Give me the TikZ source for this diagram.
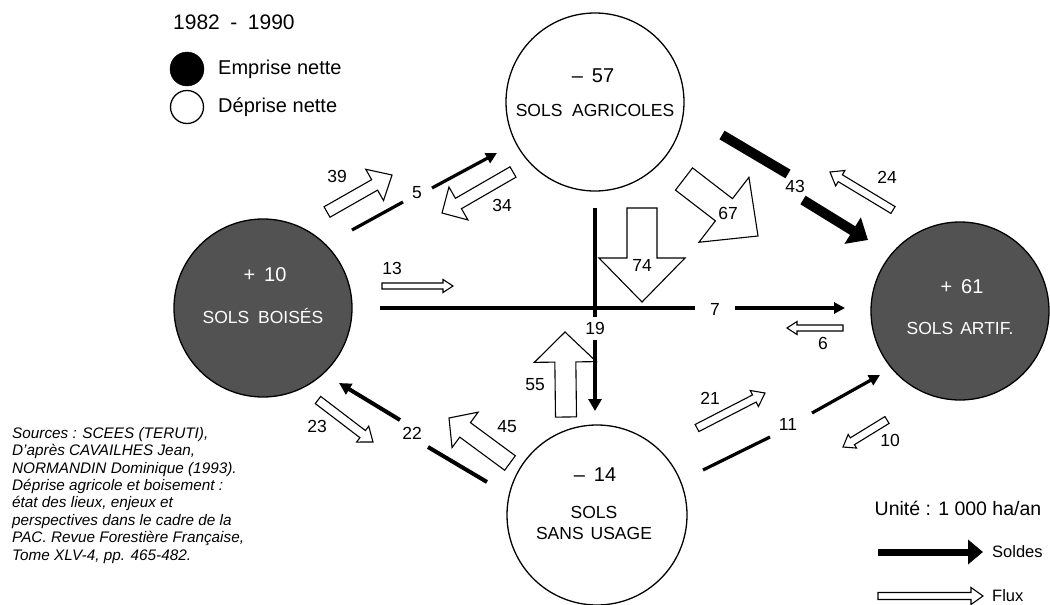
\documentclass[tikz,border=0pt]{standalone}
\usepackage{fontspec}
\setmainfont{Liberation Sans}
\usetikzlibrary{calc,arrows.meta}

% hollow block arrow: tail, tip, half shaft, half head, head length
\newcommand\fluxarrow[5]{%
  \coordinate (fbase) at ($(#2)!#5!(#1)$);
  \draw[fluxline] ($(#1)!#3!90:(#2)$) -- ($(fbase)!#3!90:(#2)$) -- ($(fbase)!#4!90:(#2)$)
    -- (#2) -- ($(fbase)!#4!-90:(#2)$) -- ($(fbase)!#3!-90:(#2)$) -- ($(#1)!#3!-90:(#2)$) -- cycle;
}

\begin{document}
\begin{tikzpicture}[x=1pt,y=-1pt,
  fluxline/.style={draw=black, fill=white, line width=1.1pt, line join=miter},
  solde/.style={draw=black, line width=3.2pt},
  soldetip/.style={-{Triangle[length=11pt,width=11pt]}},
  num/.style={font=\fontsize{17.5}{19}\selectfont, inner sep=0pt},
  bigcirc/.style={circle, draw=black, line width=1.3pt, inner sep=0pt, minimum size=178pt},
  darkcirc/.style={bigcirc, fill=black!68},
  lightcirc/.style={bigcirc, fill=white},
  ctitle/.style={font=\fontsize{17.5}{20}\selectfont, inner sep=0pt, align=center},
  cval/.style={font=\fontsize{20}{22}\selectfont, inner sep=0pt},
  legtxt/.style={font=\fontsize{20}{22}\selectfont, inner sep=0pt, anchor=west}
]
\useasboundingbox (0,0) rectangle (1050,605);

% ---------- circles ----------
\node[lightcirc] (agri) at (595,102) {};
\node[cval] (agriv) at (593,76) {\textendash\hspace{0.45em}57};
\node[ctitle] (agrit) at (595,110) {SOLS\hspace{0.55em}AGRICOLES};

\node[darkcirc] (bois) at (263,308) {};
\node[cval, text=white] (boisv) at (265,275) {+\hspace{0.45em}10};
\node[ctitle, text=white] (boist) at (263,316) {SOLS\hspace{0.5em}BOISÉS};

\node[darkcirc] (artif) at (960,311) {};
\node[cval, text=white] (artifv) at (962,287) {+\hspace{0.45em}61};
\node[ctitle, text=white] (artift) at (960,328) {SOLS\hspace{0.4em}ARTIF.};

\node[lightcirc, minimum size=180pt] (sans) at (597,515) {};
\node[cval] (sansv) at (595,475) {\textendash\hspace{0.45em}14};
\node[ctitle, align=center] (sanst) at (594,523) {SOLS\\[1pt]SANS\hspace{0.4em}USAGE};

% ---------- legend top-left ----------
\node[legtxt, font=\fontsize{21}{23}\selectfont] (year) at (173,22) {1982\hspace{0.5em}-\hspace{0.5em}1990};
\node[circle, fill=black, draw=black, inner sep=0pt, minimum size=34pt] (legE) at (187,69) {};
\node[legtxt] (legEt) at (218,69) {Emprise nette};
\node[circle, fill=white, draw=black, line width=1.3pt, inner sep=0pt, minimum size=33pt] (legD) at (187,107) {};
\node[legtxt] (legDt) at (218,107) {Déprise nette};

% ---------- coordinates ----------
% flux (hollow)
\coordinate (f39t) at (327,212); \coordinate (f39h) at (392,175);
\coordinate (f34t) at (513,172); \coordinate (f34h) at (442,213);
\coordinate (f13t) at (382,286); \coordinate (f13h) at (453,286);
\coordinate (f74t) at (642,208); \coordinate (f74h) at (642,302);
\coordinate (f55t) at (566,417); \coordinate (f55h) at (565,332);
\coordinate (f67t) at (684,179); \coordinate (f67h) at (758,236);
\coordinate (f24t) at (893,210); \coordinate (f24h) at (830,172);
\coordinate (f6t)  at (843,328); \coordinate (f6h)  at (787,328);
\coordinate (f21t) at (697,428); \coordinate (f21h) at (765,393);
\coordinate (f10t) at (887,420); \coordinate (f10h) at (843,447);
\coordinate (f23t) at (318,400); \coordinate (f23h) at (373,442);
\coordinate (f45t) at (510,463); \coordinate (f45h) at (449,418);
\coordinate (fLt)  at (878,596); \coordinate (fLh)  at (983,596);

\fluxarrow{f39t}{f39h}{6pt}{18pt}{20pt}
\fluxarrow{f34t}{f34h}{6pt}{19pt}{19pt}
\fluxarrow{f13t}{f13h}{3pt}{6.5pt}{10pt}
\fluxarrow{f74t}{f74h}{15pt}{43pt}{44pt}
\fluxarrow{f55t}{f55h}{10.5pt}{31pt}{30pt}
\fluxarrow{f67t}{f67h}{14pt}{41pt}{43pt}
\fluxarrow{f24t}{f24h}{4pt}{9pt}{12pt}
\fluxarrow{f6t}{f6h}{3pt}{6.5pt}{10pt}
\fluxarrow{f21t}{f21h}{4pt}{9pt}{12pt}
\fluxarrow{f10t}{f10h}{4pt}{8pt}{11pt}
\fluxarrow{f23t}{f23h}{4.5pt}{10pt}{13pt}
\fluxarrow{f45t}{f45h}{9pt}{22pt}{20pt}
\fluxarrow{fLt}{fLh}{3.5pt}{8.5pt}{12pt}

% soldes (black)
\coordinate (s5a) at (352,230); \coordinate (s5b) at (403,202);
\coordinate (s5c) at (432,188); \coordinate (s5d) at (497,153);
\draw[solde] (s5a) -- (s5b);
\draw[solde, soldetip] (s5c) -- (s5d);

\coordinate (s7a) at (380,308); \coordinate (s7b) at (695,308);
\coordinate (s7c) at (735,308); \coordinate (s7d) at (845,308);
\draw[solde] (s7a) -- (s7b);
\draw[solde, soldetip] (s7c) -- (s7d);

\coordinate (s19a) at (595,208); \coordinate (s19b) at (595,317);
\coordinate (s19c) at (595,340); \coordinate (s19d) at (595,411);
\draw[solde, line width=4pt] (s19a) -- (s19b);
\draw[solde, line width=4pt, -{Triangle[length=12pt,width=13pt]}] (s19c) -- (s19d);

\coordinate (s43a) at (722,135); \coordinate (s43b) at (788,174);
\coordinate (s43c) at (803,200); \coordinate (s43d) at (868,240);
\draw[solde, line width=10pt] (s43a) -- (s43b);
\draw[solde, line width=10pt, -{Triangle[length=18pt,width=30pt]}] (s43c) -- (s43d);

\coordinate (s22a) at (487,482); \coordinate (s22b) at (428,447);
\coordinate (s22c) at (400,420); \coordinate (s22d) at (339,383);
\draw[solde, line width=4pt] (s22a) -- (s22b);
\draw[solde, line width=4pt, -{Triangle[length=12pt,width=12pt]}] (s22c) -- (s22d);

\coordinate (s11a) at (703,470); \coordinate (s11b) at (770,437);
\coordinate (s11c) at (812,413); \coordinate (s11d) at (880,375);
\draw[solde] (s11a) -- (s11b);
\draw[solde, soldetip] (s11c) -- (s11d);

\coordinate (sLa) at (878,552); \coordinate (sLb) at (983,552);
\draw[solde, line width=7pt, -{Triangle[length=15pt,width=24pt]}] (sLa) -- (sLb);

% ---------- numbers ----------
\node[num] (n39) at (337,176) {39};
\node[num] (n5)  at (417,193) {5};
\node[num] (n34) at (502,205) {34};
\node[num] (n13) at (392,268) {13};
\node[num] (n74) at (642,265) {74};
\node[num] (n19) at (595,328) {19};
\node[num] (n7)  at (715,309) {7};
\node[num] (n55) at (535,385) {55};
\node[num] (n43) at (795,186) {43};
\node[num] (n24) at (887,177) {24};
\node[num] (n67) at (728,213) {67};
\node[num] (n6)  at (823,343) {6};
\node[num] (n21) at (710,398) {21};
\node[num] (n11) at (788,424) {11};
\node[num] (n10) at (890,440) {10};
\node[num] (n23) at (317,426) {23};
\node[num] (n22) at (412,433) {22};
\node[num] (n45) at (507,427) {45};

% ---------- legend bottom-right ----------
\node[font=\fontsize{19.5}{21}\selectfont, inner sep=0pt] (unit) at (958,508) {Unité : 1 000 ha/an};
\node[font=\fontsize{16.5}{18}\selectfont, inner sep=0pt, anchor=west] (lsol) at (992,552) {Soldes};
\node[font=\fontsize{16.5}{18}\selectfont, inner sep=0pt, anchor=west] (lflux) at (992,596) {Flux};

% ---------- sources ----------
\node[font=\fontsize{15.3}{17.4}\selectfont\itshape, inner sep=0pt, anchor=north west, align=left] (src) at (12,427)
{Sources : SCEES (TERUTI),\\
D'après CAVAILHES Jean,\\
NORMANDIN Dominique (1993).\\
Déprise agricole et boisement :\\
état des lieux, enjeux et\\
perspectives dans le cadre de la\\
PAC. Revue Forestière Française,\\
Tome XLV-4, pp. 465-482.};
\end{tikzpicture}
\end{document}
